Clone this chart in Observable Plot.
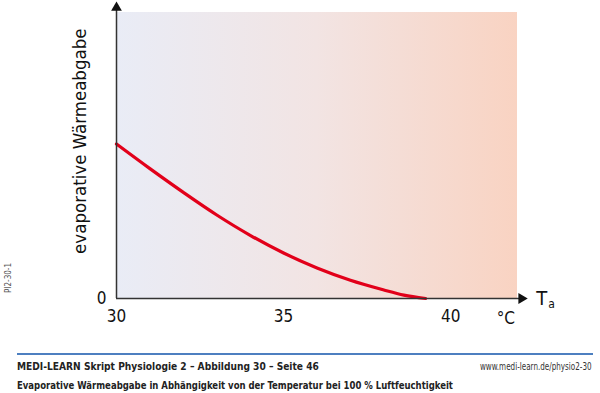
<!DOCTYPE html>
<html>
<head>
<meta charset="utf-8">
<script src="https://cdn.jsdelivr.net/npm/d3@7"></script>
<script src="https://cdn.jsdelivr.net/npm/@observablehq/plot@0.6"></script>
<style>
  body { margin: 0; background: #fff; font-family: "DejaVu Sans Condensed", "Liberation Sans", sans-serif; }
  #wrap { position: relative; width: 600px; height: 393px; overflow: hidden; }
  #rule { position: absolute; left: 17px; top: 353px; width: 576px; height: 2px; background: #4d7fc0; }
  .foot { position: absolute; font-size: 11px; color: #222; white-space: nowrap; }
  #f1 { left: 17px; top: 360px; font-weight: bold; transform: scaleX(0.92); transform-origin: left center; }
  #f2 { left: 17px; top: 379px; font-weight: bold; transform: scaleX(0.86); transform-origin: left center; }
  #f3 { right: 8px; top: 361px; font-size: 10px; color: #333; transform: scaleX(0.8); transform-origin: right center; }
  #code { position: absolute; left: 8px; top: 278px; font-size: 8px; color: #555; transform: translate(-50%, -50%) rotate(-90deg); white-space: nowrap; }
</style>
</head>
<body>
<div id="wrap">
  <div id="chart"></div>
  <div id="code">PI2-30-1</div>
  <div id="rule"></div>
  <div class="foot" id="f1">MEDI-LEARN Skript Physiologie 2 – Abbildung 30 – Seite 46</div>
  <div class="foot" id="f3">www.medi-learn.de/physio2-30</div>
  <div class="foot" id="f2">Evaporative Wärmeabgabe in Abhängigkeit von der Temperatur bei 100 % Luftfeuchtigkeit</div>
</div>
<script>
// Data
const temps = [30, 31, 32, 33, 34, 35, 36, 37, 38, 38.6, 39.25];
const evap  = [54, 45.4, 37.1, 29.2, 22.1, 15.9, 10.7, 6.4, 3.0, 1.2, 0];
const xTicks = [30, 35, 40];
const xDomain = [30, 42];
const yDomain = [0, 100];
const yLabel = "evaporative Wärmeabgabe";
const xUnit = "°C";
const xVar = "T";
const xSub = "a";

const curve = temps.map((t, i) => ({t, v: evap[i]}));
const FONT = '"DejaVu Sans Condensed", "Liberation Sans", sans-serif';

const defs = () => {
  const d = d3.create("svg:defs");
  const g = d.append("linearGradient").attr("id", "bg").attr("x1", "0").attr("x2", "1").attr("y1", "0").attr("y2", "0");
  g.append("stop").attr("offset", "0").attr("stop-color", "#e9ecf6");
  g.append("stop").attr("offset", "0.5").attr("stop-color", "#f2e4e3");
  g.append("stop").attr("offset", "1").attr("stop-color", "#f9d3c2");
  return d.node();
};

const chart = Plot.plot({
  width: 600,
  height: 340,
  marginLeft: 116,
  marginRight: 83,
  marginTop: 12,
  marginBottom: 42,
  style: {fontFamily: FONT, background: "transparent", overflow: "visible"},
  x: {domain: xDomain, axis: null},
  y: {domain: yDomain, axis: null},
  marks: [
    defs,
    Plot.rect([{}], {x1: xDomain[0], x2: xDomain[1], y1: yDomain[0], y2: yDomain[1], fill: "url(#bg)"}),
    Plot.line(curve, {x: "t", y: "v", stroke: "#e2001a", strokeWidth: 3.2, curve: "catmull-rom"}),
    // axes lines with arrows
    Plot.ruleX([xDomain[0]], {y1: 0, y2: 101.5, stroke: "#333", strokeWidth: 1.5}),
    Plot.ruleY([0], {x1: xDomain[0], x2: 42.1, stroke: "#333", strokeWidth: 1.5}),
    Plot.dot([{}], {x: xDomain[0], y: 101.7, symbol: "triangle", r: 4, fill: "#111", stroke: null}),
    Plot.dot([{}], {x: 42.12, y: 0, symbol: "triangle", r: 4, fill: "#111", stroke: null, rotate: 90}),
    Plot.axisX(xTicks, {tickSize: 0, tickPadding: 11, fontSize: 17, fill: "#111", label: null, tickFormat: d => d}),
    Plot.text([xUnit], {x: 41.65, y: 0, text: d => d, dy: 20, fontSize: 17, fill: "#111"}),
    Plot.text(["0"], {x: xDomain[0], y: 0, text: d => d, dx: -15, fontSize: 17, fill: "#111"}),
    Plot.text([xVar], {x: 42.5, y: 0, text: d => d, dx: 2, dy: 0, fontSize: 20, fill: "#111", textAnchor: "start"}),
    Plot.text([xSub], {x: 42.5, y: 0, text: d => d, dx: 14, dy: 6, fontSize: 12, fill: "#111", textAnchor: "start"}),
    Plot.text([yLabel], {x: xDomain[0], y: 55, text: d => d, dx: -36, rotate: -90, fontSize: 18.5, fill: "#111"})
  ]
});
document.getElementById("chart").appendChild(chart);
</script>
</body>
</html>
